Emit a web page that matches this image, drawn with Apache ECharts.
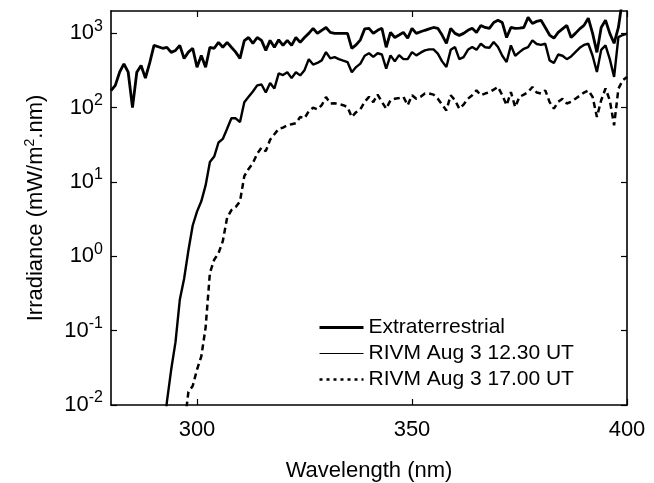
<!DOCTYPE html>
<html>
<head>
<meta charset="utf-8">
<script src="https://cdn.jsdelivr.net/npm/echarts@6/dist/echarts.min.js"></script>
<style>
  html, body { margin: 0; padding: 0; background: #fff; }
  #main { width: 654px; height: 483px; }
</style>
</head>
<body>
<div id="main"></div>
<script>
// wavelength grid, nm
const wavelength = [
  280, 281, 282, 283, 284, 285, 286, 287, 288, 289,
  290, 291, 292, 293, 294, 295, 296, 297, 298, 299,
  300, 301, 302, 303, 304, 305, 306, 307, 308, 309,
  310, 311, 312, 313, 314, 315, 316, 317, 318, 319,
  320, 321, 322, 323, 324, 325, 326, 327, 328, 329,
  330, 331, 332, 333, 334, 335, 336, 337, 338, 339,
  340, 341, 342, 343, 344, 345, 346, 347, 348, 349,
  350, 351, 352, 353, 354, 355, 356, 357, 358, 359,
  360, 361, 362, 363, 364, 365, 366, 367, 368, 369,
  370, 371, 372, 373, 374, 375, 376, 377, 378, 379,
  380, 381, 382, 383, 384, 385, 386, 387, 388, 389,
  390, 391, 392, 393, 394, 395, 396, 397, 398, 399,
  400
];

// irradiance, mW/m2.nm
const extraterrestrial = [
  170, 200, 300, 390, 300, 100, 300, 370, 250, 400,
  690, 660, 630, 650, 555, 590, 690, 460, 560, 630,
  350, 505, 350, 650, 630, 757, 650, 757, 650, 560,
  460, 800, 880, 735, 880, 805, 590, 805, 650, 820,
  690, 805, 690, 880, 757, 880, 1000, 1170, 1000, 1100,
  1200, 1030, 1000, 1000, 1000, 1000, 630, 700, 820, 1150,
  1170, 1000, 1100, 1170, 650, 1030, 880, 950, 1030, 860,
  1170, 1000, 1050, 1100, 1150, 1200, 1170, 950, 735, 1170,
  1000, 940, 1000, 1100, 1170, 1030, 1280, 1200, 1170, 1400,
  1500, 1400, 880, 1200, 1170, 1180, 1200, 1640, 1360, 1450,
  1500, 1200, 950, 860, 1030, 1150, 1280, 880, 1000, 1150,
  1280, 1600, 1000, 555, 1200, 1500, 1000, 735, 1200, 3000,
  4000
];

const rivm1230 = [
  null, null, null, null, null, null, null, null, null, null,
  null, null, 0.003, 0.011, 0.03, 0.07, 0.26, 0.5, 1.2, 2.6,
  4.0, 5.5, 9, 18.6, 22, 34, 38, 52, 72, 72,
  64, 118, 140, 165, 200, 205, 160, 215, 181, 290,
  275, 300, 250, 300, 272, 320, 450, 380, 400, 433,
  560, 460, 480, 450, 430, 411, 300, 352, 392, 500,
  540, 482, 540, 520, 335, 506, 420, 510, 450, 450,
  560, 506, 550, 590, 610, 610, 533, 420, 352, 600,
  655, 450, 480, 600, 655, 600, 725, 650, 640, 765,
  655, 500, 411, 690, 500, 560, 620, 655, 805, 720,
  700, 725, 433, 400, 520, 500, 450, 490, 560, 640,
  700, 725, 500, 302, 600, 690, 450, 259, 890, 950,
  990
];

const rivm1700 = [
  null, null, null, null, null, null, null, null, null, null,
  null, null, null, null, null, null, null, 0.005, 0.015, 0.018,
  0.03, 0.045, 0.11, 0.6, 0.9, 1.1, 1.6, 3.3, 4.2, 4.6,
  5.5, 12, 15, 18, 24, 29, 26, 37, 44, 52,
  54, 58, 60, 62, 75, 72, 90, 100, 95, 108,
  139, 114, 115, 112, 108, 102, 75, 87, 95, 120,
  140, 119, 150, 120, 97, 126, 132, 135, 140, 108,
  147, 132, 140, 155, 155, 150, 132, 110, 92, 147,
  126, 97, 110, 132, 147, 171, 147, 155, 162, 175,
  190, 147, 108, 162, 102, 140, 150, 162, 190, 160,
  155, 171, 119, 97, 120, 132, 114, 120, 132, 145,
  160, 171, 140, 75, 126, 181, 126, 58, 180, 234,
  259
];

const seriesNames = ['Extraterrestrial', 'RIVM Aug 3 12.30 UT', 'RIVM Aug 3 17.00 UT'];
const xTicks = [300, 350, 400];
const yTicks = [0.01, 0.1, 1, 10, 100, 1000];

const FONT = '"Liberation Sans", Arial, Helvetica, sans-serif';

function pairs(vals) {
    return wavelength.map((w, i) => [w, vals[i]]);
}

let myChart = echarts.init(document.getElementById('main'));

const axisLine = { show: true, lineStyle: { color: '#000', width: 1.6 } };
const tickIn = { inside: true, length: 6, lineStyle: { color: '#000', width: 1.2 } };

let option = {
    animation: false,
    backgroundColor: '#fff',
    grid: { left: 111, right: 27, top: 11, bottom: 78, outerBoundsMode: 'none', containLabel: false },
    legend: {
        orient: 'vertical',
        left: 313,
        top: 312,
        itemWidth: 44,
        itemHeight: 14,
        itemGap: 5,
        itemStyle: { opacity: 0 },
        textStyle: { fontFamily: FONT, fontSize: 21, color: '#000' },
        data: [
            { name: seriesNames[0], itemStyle: { opacity: 0 }, lineStyle: { width: 3 } },
            { name: seriesNames[1], itemStyle: { opacity: 0 }, lineStyle: { width: 1 } },
            { name: seriesNames[2], itemStyle: { opacity: 0 }, lineStyle: { width: 2.5, type: [3, 4] } }
        ]
    },
    xAxis: [
        {
            type: 'value',
            min: 280, max: 400,
            name: 'Wavelength (nm)',
            nameLocation: 'middle',
            nameGap: 55,
            nameTextStyle: { fontFamily: FONT, fontSize: 22, color: '#000' },
            axisLine: axisLine,
            axisTick: Object.assign({ customValues: xTicks }, tickIn),
            axisLabel: {
                customValues: xTicks,
                margin: 14,
                fontFamily: FONT, fontSize: 22, color: '#000'
            },
            splitLine: { show: false }
        },
        {
            type: 'value',
            position: 'top',
            min: 280, max: 400,
            axisLine: axisLine,
            axisTick: Object.assign({ customValues: xTicks }, tickIn),
            axisLabel: { show: false },
            splitLine: { show: false }
        }
    ],
    yAxis: [
        {
            type: 'log',
            logBase: 10,
            min: 0.01, max: 2000,
            name: 'Irradiance (mW/m{sup|2}.nm)',
            nameLocation: 'middle',
            nameGap: 62,
            nameTextStyle: {
                fontFamily: FONT, fontSize: 22, color: '#000',
                rich: { sup: { fontFamily: FONT, fontSize: 14, color: '#000', padding: [0, 0, 12, 0] } }
            },
            axisLine: axisLine,
            axisTick: Object.assign({ customValues: yTicks }, tickIn),
            axisLabel: {
                customValues: yTicks,
                margin: 8,
                fontFamily: FONT, fontSize: 22, color: '#000',
                formatter: function (v) {
                    return '10{sup|' + Math.round(Math.log10(v)) + '}';
                },
                rich: { sup: { fontFamily: FONT, fontSize: 16, color: '#000', padding: [0, 0, 14, 0] } }
            },
            splitLine: { show: false },
            minorTick: { show: false }
        },
        {
            type: 'log',
            logBase: 10,
            position: 'right',
            min: 0.01, max: 2000,
            axisLine: axisLine,
            axisTick: Object.assign({ customValues: yTicks }, tickIn),
            axisLabel: { show: false },
            splitLine: { show: false }
        }
    ],
    series: [
        {
            name: seriesNames[0],
            type: 'line',
            data: pairs(extraterrestrial),
            symbol: 'none',
            color: '#000',
            lineStyle: { color: '#000', width: 2.8 }
        },
        {
            name: seriesNames[1],
            type: 'line',
            data: pairs(rivm1230),
            symbol: 'none',
            color: '#000',
            lineStyle: { color: '#000', width: 2.4 }
        },
        {
            name: seriesNames[2],
            type: 'line',
            data: pairs(rivm1700),
            symbol: 'none',
            color: '#000',
            lineStyle: { color: '#000', width: 2.5, type: [6, 4] }
        }
    ]
};

option && myChart.setOption(option);
</script>
</body>
</html>
